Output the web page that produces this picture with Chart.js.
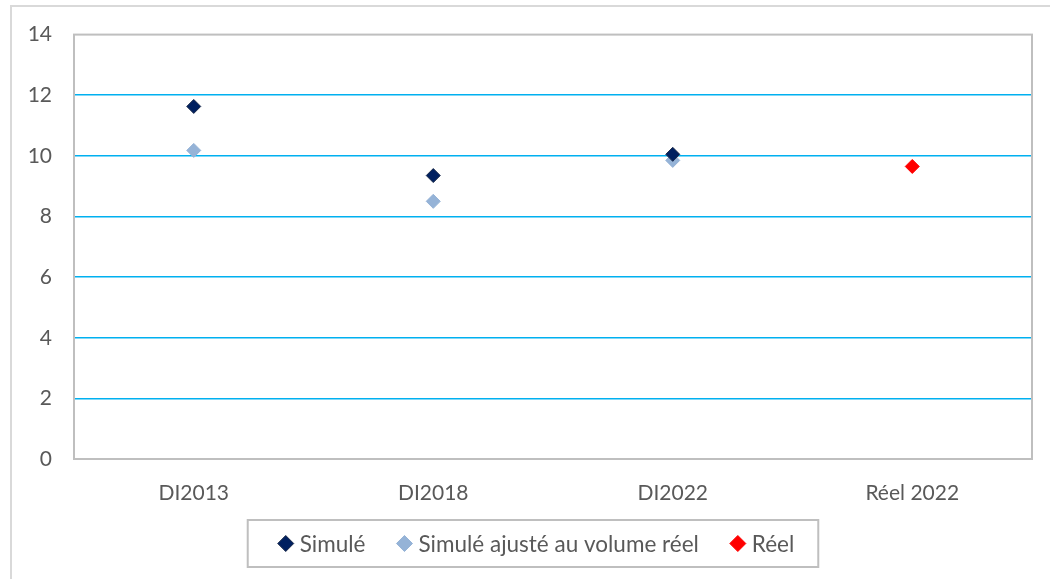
<!DOCTYPE html>
<html lang="fr">
<head>
<meta charset="UTF-8">
<title>Simulé vs réel</title>
<script src="https://cdn.jsdelivr.net/npm/chart.js"></script>
<style>
    html, body { margin: 0; padding: 0; background: #fff; }
    #wrap { width: 1050px; height: 579px; }
</style>
</head>
<body>
<div id="wrap"><canvas id="chart" width="1050" height="579"></canvas></div>
<script>
// valeurs
const categories = ["DI2013", "DI2018", "DI2022", "Réel 2022"];
const simule = [11.63, 9.35, 10.05, null];
const simuleAjuste = [10.18, 8.5, 9.85, null];
const reel = [null, null, null, 9.65];
const yTicks = [0, 2, 4, 6, 8, 10, 12, 14];

const textColor = "#595959";
const fontFamily = "Lato, 'Open Sans', sans-serif";

// cadre extérieur + bord de la zone de tracé
const frames = {
    id: "frames",
    beforeDraw(chart) {
        const ctx = chart.ctx;
        ctx.save();
        ctx.fillStyle = "#fff";
        ctx.fillRect(0, 0, chart.width, chart.height);
        ctx.strokeStyle = "#D9D9D9";
        ctx.lineWidth = 2;
        ctx.strokeRect(11, 6, chart.width + 20, chart.height + 20);
        ctx.restore();
    },
    afterDatasetsDraw(chart) {
        const { ctx, chartArea: a } = chart;
        ctx.save();
        ctx.strokeStyle = "#BFBFBF";
        ctx.lineWidth = 2;
        ctx.strokeRect(a.left, a.top, a.right - a.left, a.bottom - a.top);
        ctx.restore();
    }
};

// légende dessinée à la main (espacement façon Excel)
const boxLegend = {
    id: "boxLegend",
    afterDraw(chart) {
        const ctx = chart.ctx;
        const cx = 536, cy = 543.5, half = 8, gap = 31, txtGap = 6;
        ctx.save();
        ctx.font = "22.5px " + fontFamily;
        const items = chart.data.datasets.map(d => ({
            label: d.label,
            fill: d.pointBackgroundColor,
            stroke: d.pointBorderColor,
            w: 2 * half + txtGap + ctx.measureText(d.label).width
        }));
        const total = items.reduce((s, it) => s + it.w, 0) + gap * (items.length - 1);
        let x = cx - total / 2;
        ctx.strokeStyle = "#BFBFBF";
        ctx.lineWidth = 2;
        ctx.strokeRect(x - 30, cy - 23.5, total + 54, 47);
        ctx.textBaseline = "middle";
        items.forEach(it => {
            const mx = x + half;
            ctx.beginPath();
            ctx.moveTo(mx, cy - half);
            ctx.lineTo(mx + half, cy);
            ctx.lineTo(mx, cy + half);
            ctx.lineTo(mx - half, cy);
            ctx.closePath();
            ctx.fillStyle = it.fill;
            ctx.fill();
            ctx.strokeStyle = it.stroke;
            ctx.lineWidth = 1;
            ctx.stroke();
            ctx.fillStyle = textColor;
            ctx.fillText(it.label, x + 2 * half + txtGap, cy + 1);
            x += it.w + gap;
        });
        ctx.restore();
    }
};

function ds(label, data, color, border) {
    return {
        label: label,
        data: data,
        showLine: false,
        pointStyle: "rectRot",
        pointRadius: 7,
        pointHoverRadius: 7,
        pointBackgroundColor: color,
        pointBorderColor: border,
        pointBorderWidth: 1,
        backgroundColor: color,
        borderColor: border
    };
}

new Chart(document.getElementById("chart"), {
    type: "line",
    data: {
        labels: categories,
        datasets: [
            ds("Simulé", simule, "#002060", "#1a2a4a"),
            ds("Simulé ajusté au volume réel", simuleAjuste, "#95B3D7", "#95B3D7"),
            ds("Réel", reel, "#FF0000", "#FF0000")
        ]
    },
    options: {
        responsive: false,
        animation: false,
        devicePixelRatio: 1,
        layout: { padding: { left: 10, top: 34, right: 18, bottom: 60 } },
        plugins: {
            tooltip: { enabled: false },
            legend: { display: false }
        },
        scales: {
            x: {
                offset: true,
                grid: { display: false },
                border: { display: false },
                ticks: { color: textColor, padding: 14, font: { family: fontFamily, size: 21 } },
                afterFit(s) { s.height = 60; }
            },
            y: {
                min: 0,
                max: 14,
                afterBuildTicks(s) { s.ticks = yTicks.map(v => ({ value: v })); },
                grid: {
                    drawTicks: false,
                    color: c => (c.tick.value === 0 || c.tick.value === 14) ? "rgba(0,0,0,0)" : "#00B0F0",
                    lineWidth: 1.5
                },
                border: { display: false },
                ticks: { color: textColor, padding: 22, font: { family: fontFamily, size: 21 } },
                afterFit(s) { s.width = 64; }
            }
        }
    },
    plugins: [frames, boxLegend]
});
</script>
</body>
</html>
